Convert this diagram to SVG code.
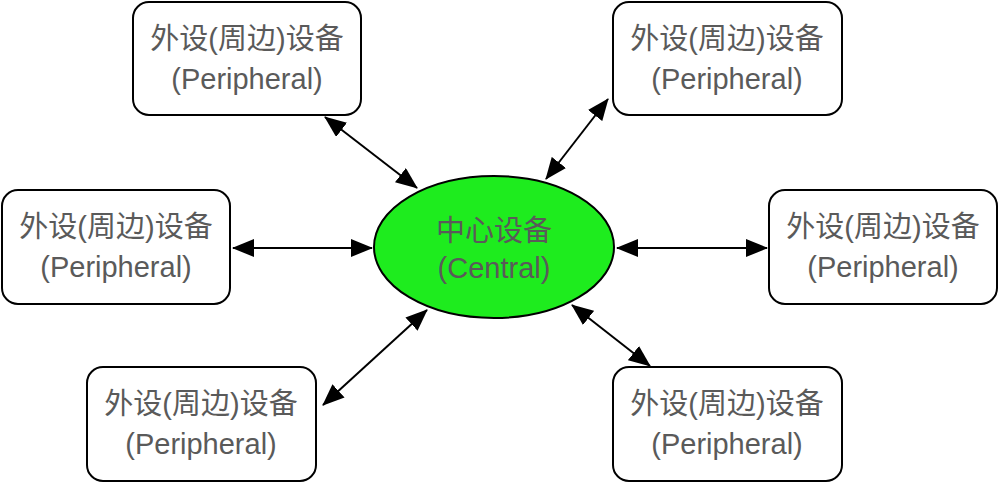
<svg xmlns="http://www.w3.org/2000/svg" width="1000" height="484" viewBox="0 0 1000 484">
<style>
.box{fill:#fff;stroke:#000;stroke-width:2}
.t{font-family:"Liberation Sans","Noto Sans CJK SC",sans-serif;font-size:29px;fill:#5a5a5a;text-anchor:middle}
.c{fill:none;stroke:#000;stroke-width:2;marker-start:url(#ah);marker-end:url(#ah)}
</style>
<defs>
<marker id="ah" markerUnits="userSpaceOnUse" markerWidth="22" markerHeight="18" viewBox="0 0 22 18" refX="21" refY="9" orient="auto-start-reverse">
<path d="M0,0 L22,9 L0,18 z" fill="#000"/>
</marker>
</defs>
<rect width="1000" height="484" fill="#fff"/>
<g id="connectors">
<line class="c" x1="325" y1="117" x2="417" y2="188"/>
<line class="c" x1="608" y1="99" x2="546" y2="179"/>
<line class="c" x1="233" y1="248" x2="372" y2="248"/>
<line class="c" x1="617" y1="248" x2="767" y2="248"/>
<line class="c" x1="427" y1="310" x2="323" y2="405"/>
<line class="c" x1="572" y1="305" x2="650" y2="366"/>
</g>
<g id="central">
<ellipse cx="494" cy="247" rx="120" ry="71" fill="#1eec1e" stroke="#000" stroke-width="2"/>
<text class="t" x="494" y="241">中心设备</text>
<text class="t" x="494" y="278">(Central)</text>
</g>
<g id="p-top-left">
<rect class="box" x="133" y="2" width="228" height="113" rx="16"/>
<text class="t" x="247" y="49">外设(周边)设备</text>
<text class="t" x="247" y="89">(Peripheral)</text>
</g>
<g id="p-top-right">
<rect class="box" x="613" y="2" width="229" height="113" rx="16"/>
<text class="t" x="727" y="49">外设(周边)设备</text>
<text class="t" x="727" y="89">(Peripheral)</text>
</g>
<g id="p-left">
<rect class="box" x="2" y="190" width="228" height="114" rx="16"/>
<text class="t" x="116" y="237">外设(周边)设备</text>
<text class="t" x="116" y="277">(Peripheral)</text>
</g>
<g id="p-right">
<rect class="box" x="769" y="190" width="228" height="114" rx="16"/>
<text class="t" x="883" y="237">外设(周边)设备</text>
<text class="t" x="883" y="277">(Peripheral)</text>
</g>
<g id="p-bottom-left">
<rect class="box" x="87" y="367" width="229" height="114" rx="16"/>
<text class="t" x="201" y="414">外设(周边)设备</text>
<text class="t" x="201" y="454">(Peripheral)</text>
</g>
<g id="p-bottom-right">
<rect class="box" x="613" y="367" width="229" height="114" rx="16"/>
<text class="t" x="727" y="414">外设(周边)设备</text>
<text class="t" x="727" y="454">(Peripheral)</text>
</g>
</svg>
